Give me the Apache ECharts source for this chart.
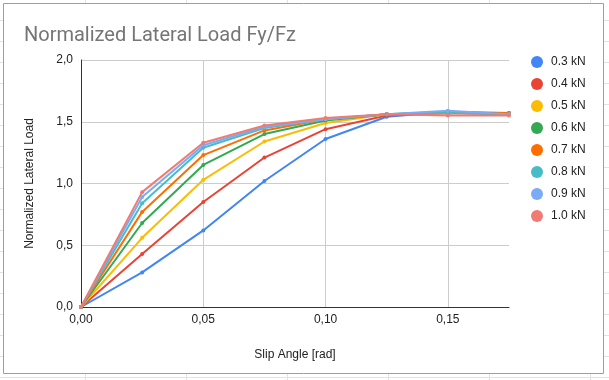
<!DOCTYPE html>
<html>
<head>
<meta charset="utf-8">
<script src="https://cdn.jsdelivr.net/npm/echarts@6/dist/echarts.min.js"></script>
<style>
html,body{margin:0;padding:0;}
body{
  width:609px;height:380px;overflow:hidden;background:#fff;
  background-image:
    repeating-linear-gradient(to right, transparent 0, transparent 85px, #e2e2e2 85px, #e2e2e2 86px, transparent 86px, transparent 101px),
    repeating-linear-gradient(to bottom, transparent 0, transparent 20px, #e2e2e2 20px, #e2e2e2 21px);
}
#chart{position:absolute;left:0;top:0;width:609px;height:380px;}
</style>
</head>
<body>
<div id="chart"></div>
<script>
const slipAngles = [0, 0.025, 0.05, 0.075, 0.1, 0.125, 0.15, 0.175];
const seriesNames = ['0.3 kN','0.4 kN','0.5 kN','0.6 kN','0.7 kN','0.8 kN','0.9 kN','1.0 kN'];
const load03 = [0, 0.28, 0.62, 1.02, 1.36, 1.54, 1.58, 1.56];
const load04 = [0, 0.43, 0.85, 1.21, 1.44, 1.55, 1.57, 1.56];
const load05 = [0, 0.56, 1.03, 1.34, 1.49, 1.56, 1.57, 1.57];
const load06 = [0, 0.68, 1.15, 1.40, 1.51, 1.56, 1.58, 1.57];
const load07 = [0, 0.77, 1.23, 1.43, 1.52, 1.56, 1.57, 1.57];
const load08 = [0, 0.84, 1.29, 1.45, 1.52, 1.56, 1.57, 1.56];
const load09 = [0, 0.89, 1.31, 1.46, 1.52, 1.56, 1.59, 1.56];
const load10 = [0, 0.93, 1.33, 1.47, 1.53, 1.56, 1.55, 1.55];
const allLoads = [load03, load04, load05, load06, load07, load08, load09, load10];
const colors = ['#4285f4','#ea4335','#fbbc04','#34a853','#ff6d01','#46bdc6','#7baaf7','#f07b72'];

const chart = echarts.init(document.getElementById('chart'), null, {renderer:'canvas'});
const labelFont = 'Arial, "Liberation Sans", sans-serif';
chart.setOption({
  animation:false,
  color: colors,
  graphic:[{
    type:'rect', z:-10, silent:true,
    shape:{x:3.5,y:3.5,width:600,height:370},
    style:{fill:'#fff', stroke:'#9e9e9e', lineWidth:1}
  }],
  title:{
    text:'Normalized Lateral Load Fy/Fz',
    left:19, top:21,
    textStyle:{fontFamily:'Roboto, Arial, sans-serif', fontSize:20, fontWeight:'normal', color:'#757575'}
  },
  legend:{
    orient:'vertical', left:526, top:51,
    icon:'circle', itemWidth:12, itemHeight:12, itemGap:10,
    textStyle:{fontFamily:labelFont, fontSize:12, color:'#222', padding:[0,0,0,3]},
    data: seriesNames
  },
  grid:{left:81, right:100, top:60, bottom:73, containLabel:false},
  xAxis:{
    type:'value', min:0, max:0.175, interval:0.05,
    name:'Slip Angle [rad]', nameLocation:'middle', nameGap:42,
    nameTextStyle:{fontFamily:labelFont, fontSize:12, color:'#222'},
    axisLine:{show:true, lineStyle:{color:'#333', width:1}},
    axisTick:{show:false},
    axisLabel:{fontFamily:labelFont, fontSize:12, color:'#222', margin:7, showMaxLabel:false,
      formatter:v => (Math.abs(v-0.175)<1e-9) ? '' : v.toFixed(2).replace('.',',')},
    splitLine:{show:true, showMaxLine:false, lineStyle:{color:'#cccccc', width:1}}
  },
  yAxis:{
    type:'value', min:0, max:2, interval:0.5,
    name:'Normalized Lateral Load', nameLocation:'middle', nameGap:45, nameRotate:90,
    nameTextStyle:{fontFamily:labelFont, fontSize:12, color:'#222'},
    axisLine:{show:true, lineStyle:{color:'#333', width:1}},
    axisTick:{show:false},
    axisLabel:{fontFamily:labelFont, fontSize:12, color:'#222', margin:8,
      formatter:v => v.toFixed(1).replace('.',',')},
    splitLine:{show:true, lineStyle:{color:'#cccccc', width:1}}
  },
  series: seriesNames.map((n,i)=>({
    name:n, type:'line',
    data: slipAngles.map((x,j)=>[x, allLoads[i][j]]),
    symbol:'circle', symbolSize:4, showSymbol:true,
    lineStyle:{width:2, color:colors[i]},
    itemStyle:{color:colors[i]}
  }))
});
</script>
</body>
</html>
